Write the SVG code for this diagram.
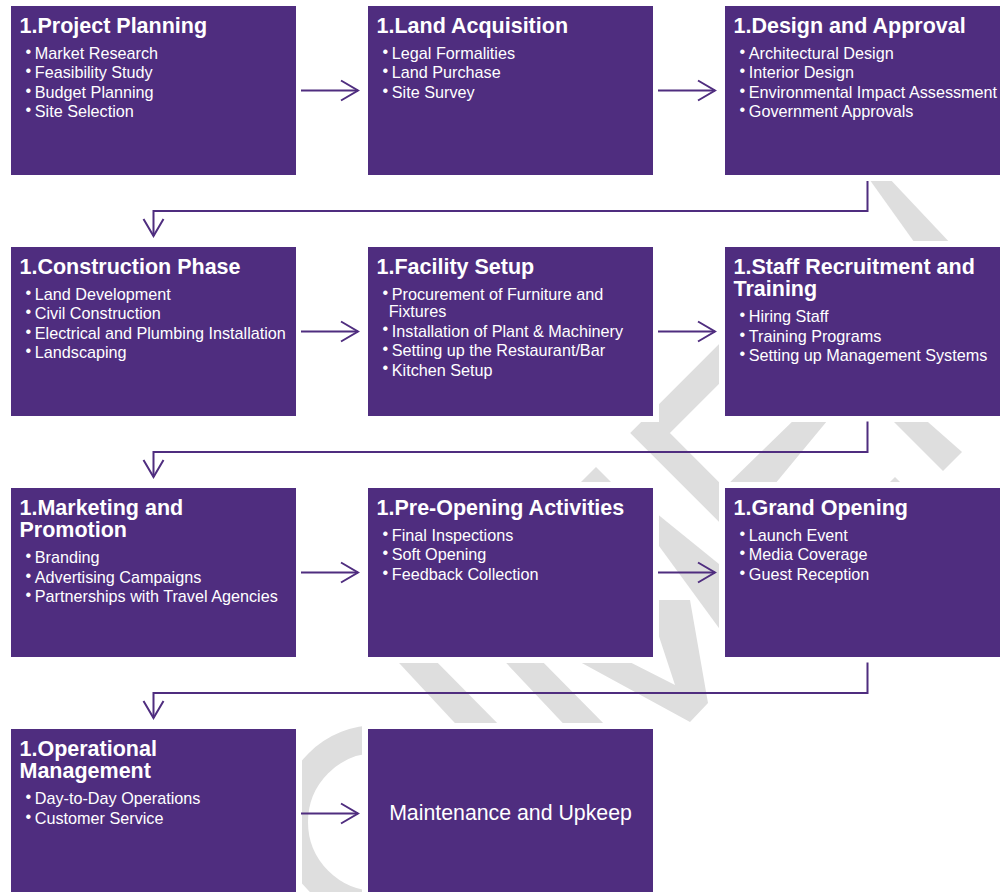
<svg xmlns="http://www.w3.org/2000/svg" width="1000" height="892" viewBox="0 0 1000 892">
<defs>
<style>
.box{fill:#4f2d7f}
.halo{fill:#ffffff}
.wm{fill:#dedede}
.wms{fill:none;stroke:#dedede;stroke-width:28;stroke-linejoin:miter}
.t{font-family:"Liberation Sans",Arial,sans-serif;font-weight:bold;font-size:21.5px;fill:#ffffff}
.b{font-family:"Liberation Sans",Arial,sans-serif;font-size:16.2px;fill:#ffffff}
.m{font-family:"Liberation Sans",Arial,sans-serif;font-size:21.3px;fill:#ffffff}
.c{fill:none;stroke:#4f2d7f;stroke-width:2}
</style>
<marker id="ah" viewBox="-20 -12 22 24" refX="0" refY="0" markerWidth="22" markerHeight="24" markerUnits="userSpaceOnUse" orient="auto">
<path d="M-17,-10 L0,0 L-17,10" fill="none" stroke="#4f2d7f" stroke-width="2"/>
</marker>
</defs>
<rect width="1000" height="892" fill="#ffffff"/>
<g id="watermark">
<polygon class="wm" points="867,176 887,176 953,246 917,246"/>
<polyline class="wms" points="745,338 650,433 745,528"/>
<polygon class="wm" points="799,415 832,415 770,490 722,490"/>
<polygon class="wm" points="887,415 920,415 962,452 943,471"/>
<polygon class="wm" points="596,467 636,507 556,507"/>
<polygon class="wm" points="895,477 925,507 865,507"/>
<polygon class="wm" points="640,500 735,577 735,650 640,520"/>
<polygon class="wm" points="387,650 425,650 509,735 466,735"/>
<polygon class="wm" points="494,650 531,650 615,735 574,735"/>
<polygon class="wm" points="558,650 606,650 675,685 647,600 690,600 708,703 690,722"/>
<path class="wms" d="M377,739 A83,83 0 0 0 377,905"/>
</g>
<g id="n1">
<rect class="halo" x="5" y="0" width="297" height="181"/>
<rect class="box" x="11" y="6" width="285" height="169"/>
<text class="t" x="19.5" y="33">1.Project Planning</text>
<text class="b" y="59"><tspan x="25.5" dy="-2.2">•</tspan><tspan x="34.8" dy="2.2">Market Research</tspan></text>
<text class="b" y="78.4"><tspan x="25.5" dy="-2.2">•</tspan><tspan x="34.8" dy="2.2">Feasibility Study</tspan></text>
<text class="b" y="97.8"><tspan x="25.5" dy="-2.2">•</tspan><tspan x="34.8" dy="2.2">Budget Planning</tspan></text>
<text class="b" y="117.2"><tspan x="25.5" dy="-2.2">•</tspan><tspan x="34.8" dy="2.2">Site Selection</tspan></text>
</g>
<g id="n2">
<rect class="halo" x="362" y="0" width="297" height="181"/>
<rect class="box" x="368" y="6" width="285" height="169"/>
<text class="t" x="376.5" y="33">1.Land Acquisition</text>
<text class="b" y="59"><tspan x="382.5" dy="-2.2">•</tspan><tspan x="391.8" dy="2.2">Legal Formalities</tspan></text>
<text class="b" y="78.4"><tspan x="382.5" dy="-2.2">•</tspan><tspan x="391.8" dy="2.2">Land Purchase</tspan></text>
<text class="b" y="97.8"><tspan x="382.5" dy="-2.2">•</tspan><tspan x="391.8" dy="2.2">Site Survey</tspan></text>
</g>
<g id="n3">
<rect class="halo" x="719" y="0" width="297" height="181"/>
<rect class="box" x="725" y="6" width="285" height="169"/>
<text class="t" x="733.5" y="33">1.Design and Approval</text>
<text class="b" y="59"><tspan x="739.5" dy="-2.2">•</tspan><tspan x="748.8" dy="2.2">Architectural Design</tspan></text>
<text class="b" y="78.4"><tspan x="739.5" dy="-2.2">•</tspan><tspan x="748.8" dy="2.2">Interior Design</tspan></text>
<text class="b" y="97.8"><tspan x="739.5" dy="-2.2">•</tspan><tspan x="748.8" dy="2.2">Environmental Impact Assessment</tspan></text>
<text class="b" y="117.2"><tspan x="739.5" dy="-2.2">•</tspan><tspan x="748.8" dy="2.2">Government Approvals</tspan></text>
</g>
<g id="n4">
<rect class="halo" x="5" y="241" width="297" height="181"/>
<rect class="box" x="11" y="247" width="285" height="169"/>
<text class="t" x="19.5" y="274">1.Construction Phase</text>
<text class="b" y="300"><tspan x="25.5" dy="-2.2">•</tspan><tspan x="34.8" dy="2.2">Land Development</tspan></text>
<text class="b" y="319.4"><tspan x="25.5" dy="-2.2">•</tspan><tspan x="34.8" dy="2.2">Civil Construction</tspan></text>
<text class="b" y="338.8"><tspan x="25.5" dy="-2.2">•</tspan><tspan x="34.8" dy="2.2">Electrical and Plumbing Installation</tspan></text>
<text class="b" y="358.2"><tspan x="25.5" dy="-2.2">•</tspan><tspan x="34.8" dy="2.2">Landscaping</tspan></text>
</g>
<g id="n5">
<rect class="halo" x="362" y="241" width="297" height="181"/>
<rect class="box" x="368" y="247" width="285" height="169"/>
<text class="t" x="376.5" y="274">1.Facility Setup</text>
<text class="b" y="300"><tspan x="382.5" dy="-2.2">•</tspan><tspan x="391.8" dy="2.2">Procurement of Furniture and</tspan><tspan x="388.7" dy="17">Fixtures</tspan></text>
<text class="b" y="336.5"><tspan x="382.5" dy="-2.2">•</tspan><tspan x="391.8" dy="2.2">Installation of Plant &amp; Machinery</tspan></text>
<text class="b" y="356"><tspan x="382.5" dy="-2.2">•</tspan><tspan x="391.8" dy="2.2">Setting up the Restaurant/Bar</tspan></text>
<text class="b" y="375.5"><tspan x="382.5" dy="-2.2">•</tspan><tspan x="391.8" dy="2.2">Kitchen Setup</tspan></text>
</g>
<g id="n6">
<rect class="halo" x="719" y="241" width="297" height="181"/>
<rect class="box" x="725" y="247" width="285" height="169"/>
<text class="t" x="733.5" y="274">1.Staff Recruitment and<tspan x="733.5" dy="21.5">Training</tspan></text>
<text class="b" y="322.3"><tspan x="739.5" dy="-2.2">•</tspan><tspan x="748.8" dy="2.2">Hiring Staff</tspan></text>
<text class="b" y="341.7"><tspan x="739.5" dy="-2.2">•</tspan><tspan x="748.8" dy="2.2">Training Programs</tspan></text>
<text class="b" y="361.1"><tspan x="739.5" dy="-2.2">•</tspan><tspan x="748.8" dy="2.2">Setting up Management Systems</tspan></text>
</g>
<g id="n7">
<rect class="halo" x="5" y="482" width="297" height="181"/>
<rect class="box" x="11" y="488" width="285" height="169"/>
<text class="t" x="19.5" y="515">1.Marketing and<tspan x="19.5" dy="21.5">Promotion</tspan></text>
<text class="b" y="563.3"><tspan x="25.5" dy="-2.2">•</tspan><tspan x="34.8" dy="2.2">Branding</tspan></text>
<text class="b" y="582.7"><tspan x="25.5" dy="-2.2">•</tspan><tspan x="34.8" dy="2.2">Advertising Campaigns</tspan></text>
<text class="b" y="602.1"><tspan x="25.5" dy="-2.2">•</tspan><tspan x="34.8" dy="2.2">Partnerships with Travel Agencies</tspan></text>
</g>
<g id="n8">
<rect class="halo" x="362" y="482" width="297" height="181"/>
<rect class="box" x="368" y="488" width="285" height="169"/>
<text class="t" x="376.5" y="515">1.Pre-Opening Activities</text>
<text class="b" y="541"><tspan x="382.5" dy="-2.2">•</tspan><tspan x="391.8" dy="2.2">Final Inspections</tspan></text>
<text class="b" y="560.4"><tspan x="382.5" dy="-2.2">•</tspan><tspan x="391.8" dy="2.2">Soft Opening</tspan></text>
<text class="b" y="579.8"><tspan x="382.5" dy="-2.2">•</tspan><tspan x="391.8" dy="2.2">Feedback Collection</tspan></text>
</g>
<g id="n9">
<rect class="halo" x="719" y="482" width="297" height="181"/>
<rect class="box" x="725" y="488" width="285" height="169"/>
<text class="t" x="733.5" y="515">1.Grand Opening</text>
<text class="b" y="541"><tspan x="739.5" dy="-2.2">•</tspan><tspan x="748.8" dy="2.2">Launch Event</tspan></text>
<text class="b" y="560.4"><tspan x="739.5" dy="-2.2">•</tspan><tspan x="748.8" dy="2.2">Media Coverage</tspan></text>
<text class="b" y="579.8"><tspan x="739.5" dy="-2.2">•</tspan><tspan x="748.8" dy="2.2">Guest Reception</tspan></text>
</g>
<g id="n10">
<rect class="halo" x="5" y="723" width="297" height="181"/>
<rect class="box" x="11" y="729" width="285" height="170"/>
<text class="t" x="19.5" y="756">1.Operational<tspan x="19.5" dy="21.5">Management</tspan></text>
<text class="b" y="804.3"><tspan x="25.5" dy="-2.2">•</tspan><tspan x="34.8" dy="2.2">Day-to-Day Operations</tspan></text>
<text class="b" y="823.7"><tspan x="25.5" dy="-2.2">•</tspan><tspan x="34.8" dy="2.2">Customer Service</tspan></text>
</g>
<g id="n11">
<rect class="halo" x="362" y="723" width="297" height="181"/>
<rect class="box" x="368" y="729" width="285" height="170"/>
<text class="m" x="510.5" y="820" text-anchor="middle">Maintenance and Upkeep</text>
</g>
<g id="connectors">
<path class="c" d="M301,90.5 H358" marker-end="url(#ah)"/>
<path class="c" d="M658,90.5 H715" marker-end="url(#ah)"/>
<path class="c" d="M867.5,181 V211 H153.5 V236" marker-end="url(#ah)"/>
<path class="c" d="M301,331.5 H358" marker-end="url(#ah)"/>
<path class="c" d="M658,331.5 H715" marker-end="url(#ah)"/>
<path class="c" d="M867.5,421.5 V452 H153.5 V477" marker-end="url(#ah)"/>
<path class="c" d="M301,572.5 H358" marker-end="url(#ah)"/>
<path class="c" d="M658,572.5 H715" marker-end="url(#ah)"/>
<path class="c" d="M867.5,662.5 V693 H153.5 V718" marker-end="url(#ah)"/>
<path class="c" d="M301,813.5 H358" marker-end="url(#ah)"/>
</g>
</svg>
